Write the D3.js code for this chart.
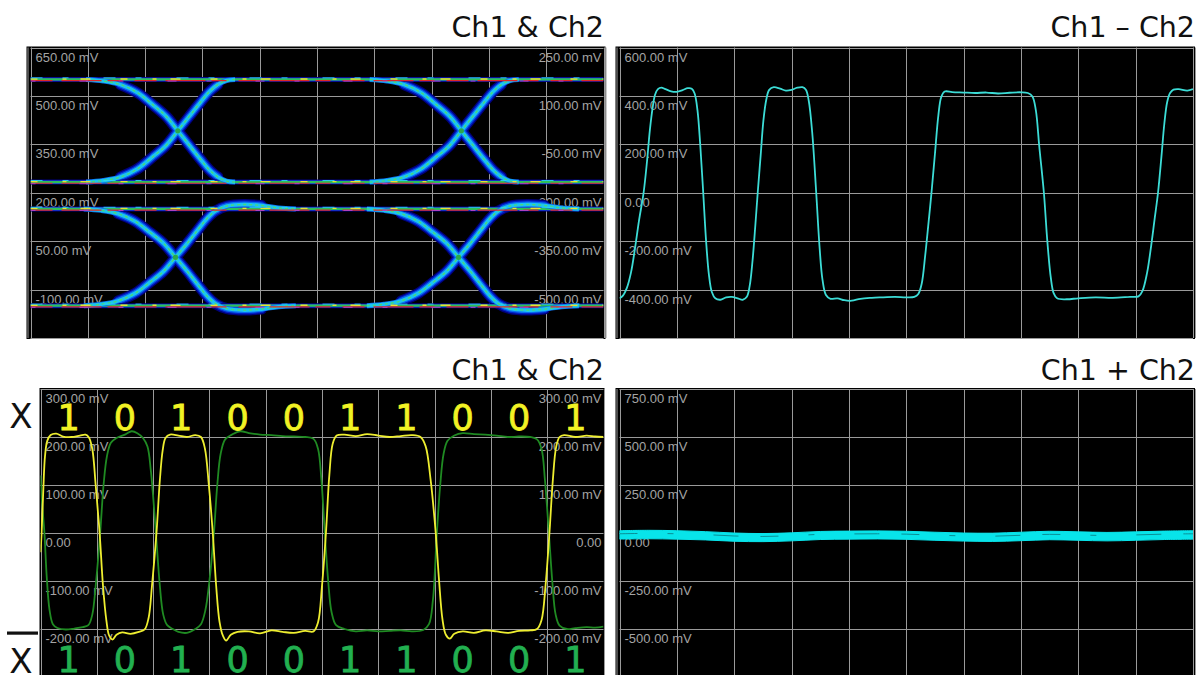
<!DOCTYPE html>
<html><head><meta charset="utf-8">
<script src="https://cdn.jsdelivr.net/npm/d3@7"></script>
<style>
html,body{margin:0;padding:0;background:#fff;}
svg{display:block;}
</style></head><body>
<svg id="chart" width="1203" height="675"></svg>
<script>
// ================= DATA =================
const panelTitles = ["Ch1 & Ch2", "Ch1 \u2013 Ch2", "Ch1 & Ch2", "Ch1 + Ch2"];

// vertical tick labels (mV) of each screen
const eyeTicksLeft  = [650, 500, 350, 200, 50, -100];
const eyeTicksRight = [250, 100, -50, -200, -350, -500];
const diffTicks     = [600, 400, 200, 0, -200, -400];
const chTicksLeft   = [300, 200, 100, 0, -100, -200];
const chTicksRight  = [300, 200, 100, 0, -100, -200];
const sumTicks      = [750, 500, 250, 0, -250, -500];

// eye diagram (time in divisions, voltage in left-axis mV)
const eyeUpperLevels = [551, 233];      // high, low
const eyeLowerLevels = [150, -150];     // high, low
const eyeUpperCross  = [2.57, 7.52];
const eyeLowerCross  = [2.53, 7.47];
// fraction of the transition completed vs. time from crossing (div)
const edgeProfileUpper = [[-1.6,0],[-1.3,0.015],[-1.0,0.05],[-0.7,0.13],[-0.45,0.24],[-0.2,0.36],[0,0.5],
  [0.2,0.64],[0.4,0.78],[0.55,0.88],[0.7,0.95],[0.85,0.99],[1.0,1]];
const edgeProfileLower = [[-1.6,0],[-1.3,0.015],[-1.0,0.05],[-0.7,0.13],[-0.45,0.24],[-0.2,0.36],[0,0.5],
  [0.2,0.64],[0.4,0.79],[0.55,0.9],[0.7,0.98],[0.9,1.03],[1.2,1.045],[1.5,1.035],[1.8,1.01],[2.1,1]];

// Ch1 - Ch2 differential trace [t(div), mV]
const diffWave = [[0.00,-436],[0.06,-425],[0.13,-392],[0.2,-330],[0.27,-230],[0.34,-115],[0.42,0],[0.48,130],
  [0.53,260],[0.58,355],[0.62,405],[0.67,428],[0.73,434],[0.8,428],[0.9,419],[1.0,417],[1.1,424],[1.19,432],
  [1.26,430],[1.31,410],[1.36,340],[1.41,190],[1.46,0],[1.51,-200],[1.56,-340],[1.61,-410],[1.67,-436],
  [1.76,-442],[1.86,-432],[1.96,-430],[2.06,-436],[2.15,-442],[2.22,-430],[2.27,-385],[2.32,-280],[2.37,-130],
  [2.41,0],[2.46,150],[2.51,300],[2.56,385],[2.61,425],[2.69,436],[2.8,430],[2.9,422],[3.0,425],[3.1,434],
  [3.19,436],[3.25,425],[3.3,380],[3.36,250],[3.43,0],[3.49,-230],[3.54,-360],[3.6,-422],[3.68,-438],[3.8,-436],
  [3.92,-444],[4.05,-446],[4.2,-438],[4.4,-434],[4.6,-432],[4.8,-430],[5.0,-432],[5.14,-430],[5.21,-418],
  [5.27,-375],[5.33,-260],[5.39,-120],[5.44,0],[5.5,160],[5.56,320],[5.61,395],[5.67,418],[5.8,416],[6.0,414],
  [6.2,412],[6.4,414],[6.6,410],[6.8,413],[7.0,415],[7.12,412],[7.2,398],[7.26,340],[7.32,190],[7.4,0],
  [7.46,-200],[7.52,-350],[7.57,-415],[7.63,-436],[7.8,-440],[8.0,-436],[8.3,-432],[8.6,-434],[8.9,-430],
  [9.05,-428],[9.12,-405],[9.2,-330],[9.27,-220],[9.33,-110],[9.39,0],[9.45,150],[9.5,285],[9.55,375],
  [9.6,412],[9.66,426],[9.75,428],[9.9,422],[10,428]];

// Ch1 (yellow) and Ch2 (green) single-ended traces [t(div), mV]
const ch1Wave = [[0.00,-40],[0.02,0],[0.05,90],[0.08,160],[0.12,192],[0.18,204],[0.28,207],[0.4,201],
  [0.55,200],[0.7,203],[0.8,205],[0.86,199],[0.92,175],[0.98,100],[1.05,0],[1.11,-110],[1.17,-182],
  [1.22,-214],[1.28,-222],[1.35,-212],[1.45,-207],[1.6,-210],[1.75,-206],[1.85,-201],[1.92,-177],[1.98,-110],
  [2.06,0],[2.12,110],[2.17,172],[2.22,198],[2.3,205],[2.45,203],[2.6,200],[2.75,204],[2.85,200],[2.92,176],
  [2.99,100],[3.06,0],[3.12,-110],[3.18,-185],[3.24,-214],[3.3,-224],[3.38,-212],[3.5,-206],[3.7,-205],
  [3.9,-209],[4.1,-203],[4.3,-206],[4.5,-208],[4.7,-204],[4.85,-205],[4.93,-186],[5.0,-110],[5.07,0],
  [5.13,120],[5.19,186],[5.26,203],[5.4,205],[5.6,202],[5.8,206],[6.0,203],[6.2,200],[6.4,202],[6.6,204],
  [6.75,200],[6.84,181],[6.93,110],[7.02,0],[7.08,-100],[7.14,-180],[7.2,-212],[7.27,-220],[7.35,-210],
  [7.5,-205],[7.7,-208],[7.9,-203],[8.1,-205],[8.3,-208],[8.5,-204],[8.7,-203],[8.82,-200],[8.9,-181],
  [8.97,-110],[9.04,0],[9.1,110],[9.16,180],[9.22,200],[9.3,204],[9.5,200],[9.7,203],[9.85,201],[10,200]];
const ch2Wave = [[0.00,120],[0.03,60],[0.07,0],[0.11,-90],[0.16,-160],[0.22,-190],[0.3,-198],[0.45,-201],
  [0.6,-199],[0.75,-196],[0.85,-192],[0.92,-170],[0.98,-110],[1.06,0],[1.12,100],[1.18,160],[1.25,188],
  [1.35,198],[1.5,205],[1.62,212],[1.72,208],[1.82,198],[1.9,180],[1.96,130],[2.05,0],[2.12,-110],
  [2.18,-170],[2.25,-192],[2.35,-200],[2.45,-206],[2.6,-208],[2.75,-200],[2.85,-190],[2.93,-160],[3.0,-100],
  [3.08,0],[3.14,100],[3.2,165],[3.28,195],[3.4,205],[3.55,212],[3.7,208],[3.9,205],[4.1,204],[4.3,202],
  [4.5,201],[4.7,200],[4.85,196],[4.93,175],[4.99,110],[5.05,0],[5.11,-100],[5.17,-165],[5.25,-192],
  [5.4,-200],[5.6,-205],[5.8,-203],[6.0,-205],[6.2,-204],[6.4,-203],[6.6,-205],[6.8,-202],[6.9,-190],
  [6.97,-140],[7.04,0],[7.1,100],[7.16,165],[7.23,192],[7.35,203],[7.5,208],[7.7,206],[7.9,205],[8.1,203],
  [8.3,200],[8.5,201],[8.7,200],[8.82,195],[8.9,175],[8.96,110],[9.03,0],[9.09,-100],[9.15,-170],
  [9.22,-193],[9.35,-200],[9.5,-198],[9.7,-196],[9.85,-197],[10,-195]];

// Ch1 + Ch2 common-mode band: time, upper and lower envelope (mV)
const sumTimes = [0,0.5,1,1.5,2,2.5,3,3.5,4,4.5,5,5.5,6,6.5,7,7.5,8,8.5,9,9.5,10];
const sumUpper = [12,14,12,7,0,-3,1,8,10,11,9,4,0,-1,4,9,6,3,6,10,12];
const sumLower = [-32,-30,-32,-36,-43,-45,-41,-34,-32,-31,-33,-38,-42,-44,-40,-35,-38,-41,-38,-34,-32];

// bit labels
const bitsCh1 = ["1","0","1","0","0","1","1","0","0","1"];
const bitsCh2 = ["1","0","1","0","0","1","1","0","0","1"];

// ================= DRAWING =================
const svg = d3.select("#chart");
svg.append("rect").attr("width",1203).attr("height",675).attr("fill","#fff");

const GRID = "#9a9a9a", LABEL = "#a4a4a4";
const fmt = v => v === 0 ? "0.00" : v.toFixed(2) + " mV";
const LFONT = "Liberation Sans Narrow, Liberation Sans, Arial, sans-serif";

function makePanel(id, x0, x1, y0, y1, yDomain, leftTicks, rightTicks, doubleEdge) {
  const g = svg.append("g");
  const x = d3.scaleLinear().domain([0, 10]).range([x0, x1]);
  const y = d3.scaleLinear().domain(yDomain).range([y1, y0]);
  g.append("rect").attr("x", x0 - (doubleEdge ? 4 : 1)).attr("y", y0 - 1)
    .attr("width", x1 - x0 + (doubleEdge ? 6 : 2)).attr("height", y1 - y0 + 2).attr("fill", "#000");
  const cp = svg.append("clipPath").attr("id", "clip-" + id);
  cp.append("rect").attr("x", x0).attr("y", y0).attr("width", x1 - x0).attr("height", y1 - y0);
  g.selectAll(".vg").data(x.ticks(10)).join("line")
    .attr("x1", d => Math.round(x(d)) + 0.5).attr("x2", d => Math.round(x(d)) + 0.5)
    .attr("y1", y0).attr("y2", y1).attr("stroke", GRID).attr("stroke-width", 1);
  const step = leftTicks[0] - leftTicks[1];
  const hLines = leftTicks.concat([leftTicks[leftTicks.length - 1] - step]);
  g.selectAll(".hg").data(hLines).join("line")
    .attr("x1", x0).attr("x2", x1)
    .attr("y1", d => Math.round(y(d)) + 0.5).attr("y2", d => Math.round(y(d)) + 0.5)
    .attr("stroke", GRID).attr("stroke-width", 1);
  if (doubleEdge) {
    [x0 - 3, x1 + 2].forEach(px => g.append("line").attr("x1", px + 0.5).attr("x2", px + 0.5)
      .attr("y1", y0).attr("y2", y1).attr("stroke", GRID));
  }
  g.selectAll(".ll").data(leftTicks).join("text")
    .attr("x", x0 + 5).attr("y", d => y(d) + 14)
    .attr("font-family", LFONT).attr("font-size", 13).attr("fill", LABEL).text(fmt);
  if (rightTicks) {
    g.selectAll(".rl").data(rightTicks).join("text")
      .attr("x", x1 - 2).attr("y", (d, i) => y(leftTicks[i]) + 14).attr("text-anchor", "end")
      .attr("font-family", LFONT).attr("font-size", 13).attr("fill", LABEL).text(fmt);
  }
  const layer = svg.append("g").attr("clip-path", "url(#clip-" + id + ")");
  return { x, y, layer };
}

function title(txt, xr, yb) {
  svg.append("text").attr("x", xr).attr("y", yb).attr("text-anchor", "end")
    .attr("font-family", "DejaVu Sans, Verdana, sans-serif").attr("font-size", 28.5)
    .attr("fill", "#111").text(txt);
}

// ---------- Top-left: eye diagrams ----------
const pTL = makePanel("tl", 30.5, 603.5, 47.5, 338, [-250, 650], eyeTicksLeft, eyeTicksRight, true);
title(panelTitles[0], 604, 37);
{
  const { x, y, layer } = pTL;
  const line = d3.line().x(d => x(d[0])).y(d => y(d[1])).curve(d3.curveCatmullRom.alpha(0.5));
  const eyes = [
    { lv: eyeUpperLevels, cr: eyeUpperCross, prof: edgeProfileUpper },
    { lv: eyeLowerLevels, cr: eyeLowerCross, prof: edgeProfileLower }
  ];
  const edges = [], halos = [], flats = [], dots = [];
  eyes.forEach(e => {
    const [hi, lo] = e.lv;
    flats.push([[0, hi], [10, hi]], [[0, lo], [10, lo]]);
    // halo only where the trace has left the flat level (density spreads there)
    const inner = e.prof.filter(p => p[1] > 0.03 && p[1] < 0.985 || p[1] > 1.015);
    e.cr.forEach(c => {
      edges.push(e.prof.map(([dt, f]) => [c + dt, hi - f * (hi - lo)]));
      edges.push(e.prof.map(([dt, f]) => [c + dt, lo + f * (hi - lo)]));
      halos.push(inner.map(([dt, f]) => [c + dt, hi - f * (hi - lo)]));
      halos.push(inner.map(([dt, f]) => [c + dt, lo + f * (hi - lo)]));
      dots.push([c, (hi + lo) / 2]);
    });
  });
  const flatLayers = [
    { c: "#000080", w: 5 }, { c: "#1a3ad8", w: 3.6 }, { c: "#2cc05a", w: 2.2 }
  ];
  const haloLayers = [
    { c: "#000078", w: 11 }, { c: "#0020c8", w: 8.5 }, { c: "#0a6cf0", w: 6 }
  ];
  const coreLayers = [
    { c: "#0a6cf0", w: 5 }, { c: "#1cc4f0", w: 3.6 }, { c: "#48d878", w: 1.4, dash: "3 3" }
  ];
  haloLayers.forEach(L => {
    layer.selectAll(null).data(halos).join("path").attr("d", line).attr("fill", "none")
      .attr("stroke", L.c).attr("stroke-width", L.w).attr("stroke-linecap", "round");
  });
  flatLayers.forEach(L => {
    layer.selectAll(null).data(flats).join("path").attr("d", line).attr("fill", "none")
      .attr("stroke", L.c).attr("stroke-width", L.w);
  });
  coreLayers.forEach(L => {
    layer.selectAll(null).data(edges).join("path").attr("d", line).attr("fill", "none")
      .attr("stroke", L.c).attr("stroke-width", L.w)
      .attr("stroke-dasharray", L.dash || null);
  });
  const accents = [
    { c: "#e02828", w: 1.1, dy: 1.2, dash: "22 9 40 6 15 12" },
    { c: "#e8e030", w: 1.4, dy: -0.5, dash: "7 25 4 14 10 30" },
    { c: "#b040c0", w: 1.0, dy: 1.6, dash: "5 44 9 30" },
    { c: "#30d8f0", w: 0.9, dy: -1.6, dash: "12 20 6 35" }
  ];
  accents.forEach(A => {
    layer.selectAll(null).data(flats).join("path").attr("d", line).attr("fill", "none")
      .attr("transform", `translate(0,${A.dy})`)
      .attr("stroke", A.c).attr("stroke-width", A.w).attr("stroke-dasharray", A.dash);
  });
  layer.selectAll(null).data(dots).join("circle")
    .attr("cx", d => x(d[0])).attr("cy", d => y(d[1])).attr("r", 2.6).attr("fill", "#2aa84a");
}

// ---------- Top-right: Ch1 - Ch2 ----------
const pTR = makePanel("tr", 619.5, 1193, 47.5, 338, [-600, 600], diffTicks, null, true);
title(panelTitles[1], 1195, 37);
{
  const { x, y, layer } = pTR;
  const line = d3.line().x(d => x(d[0])).y(d => y(d[1])).curve(d3.curveCatmullRom.alpha(0.5));
  layer.append("path").datum(diffWave).attr("d", line).attr("fill", "none")
    .attr("stroke", "#3cdcd6").attr("stroke-width", 1.8);
}

// ---------- Bottom-left: Ch1 & Ch2 waveforms ----------
const pBL = makePanel("bl", 40.5, 603.5, 389, 677, [-300, 300], chTicksLeft, chTicksRight, false);
title(panelTitles[2], 604, 380);
{
  const { x, y, layer } = pBL;
  const line = d3.line().x(d => x(d[0])).y(d => y(d[1])).curve(d3.curveCatmullRom.alpha(0.5));
  layer.append("path").datum(ch2Wave).attr("d", line).attr("fill", "none")
    .attr("stroke", "#1f8a22").attr("stroke-width", 1.8);
  layer.append("path").datum(ch1Wave).attr("d", line).attr("fill", "none")
    .attr("stroke", "#eeee30").attr("stroke-width", 1.8);
  const bitFont = "DejaVu Sans, Verdana, sans-serif";
  svg.selectAll(".b1").data(bitsCh1).join("text")
    .attr("x", (d, i) => x(i + 0.5)).attr("y", 430).attr("text-anchor", "middle")
    .attr("font-family", bitFont).attr("font-size", 35).attr("fill", "#f2f224")
    .attr("stroke", "#f2f224").attr("stroke-width", 0.8).text(d => d);
  svg.selectAll(".b2").data(bitsCh2).join("text")
    .attr("x", (d, i) => x(i + 0.5)).attr("y", 672).attr("text-anchor", "middle")
    .attr("font-family", bitFont).attr("font-size", 35).attr("fill", "#22b050")
    .attr("stroke", "#22b050").attr("stroke-width", 0.8).text(d => d);
  svg.append("text").attr("x", 21).attr("y", 428).attr("text-anchor", "middle")
    .attr("font-family", bitFont).attr("font-size", 34).attr("fill", "#111").text("X");
  svg.append("text").attr("x", 21).attr("y", 673).attr("text-anchor", "middle")
    .attr("font-family", bitFont).attr("font-size", 34).attr("fill", "#111").text("X");
  svg.append("rect").attr("x", 7).attr("y", 631.5).attr("width", 31).attr("height", 3.2).attr("fill", "#111");
}

// ---------- Bottom-right: Ch1 + Ch2 ----------
const pBR = makePanel("br", 619.5, 1193, 389, 677, [-750, 750], sumTicks, null, true);
title(panelTitles[3], 1195, 380);
{
  const { x, y, layer } = pBR;
  const band = sumTimes.map((t, i) => [t, sumUpper[i], sumLower[i]]);
  const area = d3.area().x(d => x(d[0])).y0(d => y(d[2])).y1(d => y(d[1])).curve(d3.curveCatmullRom.alpha(0.5));
  layer.append("path").datum(band).attr("d", area).attr("fill", "#08e4ea")
    .attr("stroke", "#08e4ea").attr("stroke-width", 1);
  const mid = d3.line().x(d => x(d[0])).y(d => y((d[1] + d[2]) / 2 + 6)).curve(d3.curveCatmullRom.alpha(0.5));
  layer.append("path").datum(band).attr("d", mid).attr("fill", "none")
    .attr("stroke", "#0a8e96").attr("stroke-width", 1).attr("stroke-dasharray", "18 30 6 40 25 22");
}
</script>
</body></html>
